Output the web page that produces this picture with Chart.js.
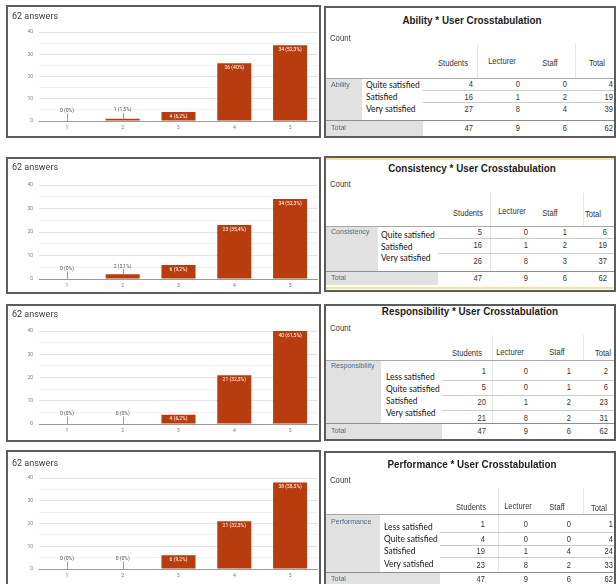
<!DOCTYPE html>
<html>
<head>
<meta charset="utf-8">
<script src="https://cdn.jsdelivr.net/npm/chart.js@4.4.1/dist/chart.umd.min.js"></script>
<style>
  html, body { margin: 0; padding: 0; background: #fff; }
  body { width: 616px; height: 584px; position: relative; overflow: hidden; }
  .box { position: absolute; overflow: hidden; background: #fff; }
  .box canvas { position: absolute; left: 0; top: 0; }
  .frame { position: absolute; left: 0; top: 0; right: 0; bottom: 0; box-sizing: border-box; border: 2px solid #5c5c5c; pointer-events: none; }
  .r { position: absolute; }
  .t { position: absolute; white-space: nowrap; line-height: 1; font-family: "Liberation Sans", Arial, sans-serif; color: #2a2a2a; }
  .ttl { font-size: 10.6px; font-weight: bold; color: #1c1c1c; }
  .cnt { font-size: 8.6px; color: #3a3a3a; }
  .hdr { font-size: 8.6px; color: #333; }
  .grp { font-size: 8px; color: #4d6b85; }
  .sub { font-family: Lato, "Open Sans", sans-serif; font-size: 9.6px; color: #151515; }
  .val { font-size: 8.4px; color: #333; }
</style>
</head>
<body>
<script>
// ---- survey answers per score (1..5) ----
const categories = ['1', '2', '3', '4', '5'];
const answersLabel = '62 answers';

const abilityCounts = [0, 1, 4, 26, 34];
const abilityPct = ['0%', '1,5%', '6,2%', '40%', '52,3%'];

const consistencyCounts = [0, 2, 6, 23, 34];
const consistencyPct = ['0%', '3,1%', '9,2%', '35,4%', '52,3%'];

const responsibilityCounts = [0, 0, 4, 21, 40];
const responsibilityPct = ['0%', '0%', '6,2%', '32,3%', '61,5%'];

const performanceCounts = [0, 0, 6, 21, 38];
const performancePct = ['0%', '0%', '9,2%', '32,3%', '58,5%'];

const yTicks = [0, 10, 20, 30, 40];

// ---- crosstabulation counts (Students, Lecturer, Staff, Total) ----
const userCols = ['Students', 'Lecturer', 'Staff', 'Total'];
const threeLevels = ['Quite satisfied', 'Satisfied', 'Very satisfied'];
const fourLevels = ['Less satisfied', 'Quite satisfied', 'Satisfied', 'Very satisfied'];

const abilityTable = [[4, 0, 0, 4], [16, 1, 2, 19], [27, 8, 4, 39]];
const consistencyTable = [[5, 0, 1, 6], [16, 1, 2, 19], [26, 8, 3, 37]];
const responsibilityTable = [[1, 0, 1, 2], [5, 0, 1, 6], [20, 1, 2, 23], [21, 8, 2, 31]];
const performanceTable = [[1, 0, 0, 1], [4, 0, 0, 4], [19, 1, 4, 24], [23, 8, 2, 33]];
const userTotals = [47, 9, 6, 62];

// ---- styling ----
const BAR = '#b83d0e';
const FONT = 'Roboto, "Liberation Sans", sans-serif';

// value labels: white inside tall bars, grey with a leader line above short ones
const barLabels = {
  id: 'barLabels',
  afterDatasetsDraw(chart, args, opts) {
    const ctx = chart.ctx;
    const meta = chart.getDatasetMeta(0);
    const values = chart.data.datasets[0].data;
    ctx.save();
    ctx.font = '5px ' + FONT;
    ctx.textAlign = 'center';
    ctx.textBaseline = 'middle';
    meta.data.forEach((bar, i) => {
      const text = values[i] + ' (' + opts.pct[i] + ')';
      const top = bar.y, base = bar.base;
      if (base - top >= 8) {
        ctx.fillStyle = '#ffffff';
        ctx.fillText(text, bar.x, top + 4.5);
      } else {
        const ly = Math.min(top - 8, base - 10.5);
        ctx.fillStyle = '#555';
        ctx.fillText(text, bar.x, ly);
        const lx = Math.round(bar.x) + 0.5;
        ctx.strokeStyle = '#9c9c9c';
        ctx.lineWidth = 1;
        ctx.beginPath();
        ctx.moveTo(lx, ly + 3);
        ctx.lineTo(lx, top);
        ctx.stroke();
      }
    });
    ctx.restore();
  }
};

function panelBox(x, y, w, h) {
  const d = document.createElement('div');
  d.className = 'box';
  Object.assign(d.style, { left: x + 'px', top: y + 'px', width: w + 'px', height: h + 'px' });
  document.body.appendChild(d);
  return d;
}
function addFrame(box) {
  const f = document.createElement('div');
  f.className = 'frame';
  box.appendChild(f);
}

function makeBarChart(p) {
  const box = panelBox(p.x, p.y, p.w, p.h);
  const cv = document.createElement('canvas');
  cv.width = p.w; cv.height = p.h;
  cv.style.width = p.w + 'px'; cv.style.height = p.h + 'px';
  box.appendChild(cv);
  addFrame(box);
  const lh = 9 * 1.2;
  new Chart(cv, {
    type: 'bar',
    data: {
      labels: categories,
      datasets: [{ data: p.counts, backgroundColor: BAR, borderWidth: 0, categoryPercentage: 1, barPercentage: 0.61 }]
    },
    options: {
      responsive: false,
      animation: false,
      devicePixelRatio: 1,
      layout: { padding: { left: 6, right: p.w - 312, top: 0, bottom: 0 } },
      plugins: {
        legend: { display: false },
        tooltip: { enabled: false },
        title: {
          display: true, text: answersLabel, align: 'start', color: '#3a3a3a',
          font: { family: FONT, size: 9, weight: 'normal', lineHeight: 1.2 },
          padding: { top: p.titleY - lh / 2, bottom: p.top - p.titleY - lh / 2 }
        },
        barLabels: { pct: p.pct }
      },
      scales: {
        x: {
          grid: { display: false, drawTicks: false },
          border: { display: false },
          ticks: { color: '#777', font: { family: FONT, size: 5 }, padding: 3.5, maxRotation: 0 },
          afterFit(s) { s.height = p.h - p.bottom; }
        },
        y: {
          min: 0, max: 40,
          grid: {
            drawTicks: false,
            color: c => c.tick.value === 0 ? '#9a9a9a' : (c.tick.value % 10 === 0 ? '#e4e4e4' : '#f2f2f2')
          },
          border: { display: false },
          ticks: {
            stepSize: 5, autoSkip: false, color: '#808080', font: { family: FONT, size: 5 }, padding: 6,
            callback: v => yTicks.includes(v) ? String(v) : ''
          },
          afterFit(s) { s.width = 27; }
        }
      }
    },
    plugins: [barLabels]
  });
}

[
  { x: 6, y: 5,   w: 315, h: 133, titleY: 12, top: 27, bottom: 116, counts: abilityCounts, pct: abilityPct },
  { x: 6, y: 157, w: 315, h: 137, titleY: 11, top: 28, bottom: 122, counts: consistencyCounts, pct: consistencyPct },
  { x: 6, y: 304, w: 315, h: 138, titleY: 11, top: 27, bottom: 120, counts: responsibilityCounts, pct: responsibilityPct },
  { x: 6, y: 450, w: 315, h: 140, titleY: 14, top: 28, bottom: 119, counts: performanceCounts, pct: performancePct }
].forEach(makeBarChart);

// ---- crosstabulation tables ----
function buildTable(s) {
  const box = panelBox(s.x, s.y, s.w, s.h);
  const rect = (x, y, w, h, color) => {
    const d = document.createElement('div');
    d.className = 'r';
    Object.assign(d.style, { left: (x - s.x) + 'px', top: (y - s.y) + 'px', width: w + 'px', height: h + 'px', background: color });
    box.appendChild(d);
  };
  const text = (str, x, y, align, cls, sx) => {
    const d = document.createElement('span');
    d.className = 't ' + cls;
    d.textContent = str;
    d.style.left = (x - s.x) + 'px';
    d.style.top = (y - s.y) + 'px';
    const tx = align === 'center' ? '-50%' : align === 'right' ? '-100%' : '0';
    const ox = align === 'center' ? '50%' : align === 'right' ? '100%' : '0';
    d.style.transformOrigin = ox + ' 50%';
    d.style.transform = 'translate(' + tx + ',-50%) scaleX(' + sx + ')';
    box.appendChild(d);
  };
  const R = s.x + s.w;

  if (s.yellow) {
    rect(s.x, s.y + 2, s.w, 2, '#f3e3a2');
    rect(s.x, s.yellowBottom, s.w, 2, '#f3e3a2');
  }
  // grey label cells
  rect(s.x + 1, s.headLineY, s.groupRight - s.x - 1, s.totalLineY - s.headLineY, '#e1e1e1');
  rect(s.x + 1, s.totalLineY, s.dataLeft - s.x - 1, s.totalBottom - s.totalLineY, '#e1e1e1');
  // faint column separators
  s.vlines.forEach(v => rect(v[0], v[1], 1, v[2] - v[1], '#e6e6e6'));
  // rules
  rect(s.x, s.headLineY, s.w, 1, '#a8a8a8');
  s.rowLines.forEach(y => rect(s.dataLeft, y, R - s.dataLeft, 1, '#cdcdcd'));
  rect(s.x, s.totalLineY, s.w, 1, '#8e8e8e');

  text(s.title, s.titleX, s.titleY, 'center', 'ttl', 0.93);
  text('Count', s.x + 6, s.countY, 'left', 'cnt', 0.9);
  userCols.forEach((c, i) => text(c, s.headX[i], s.headY[i], 'center', 'hdr', 0.88));
  text(s.group, s.x + 7, s.groupLabelY, 'left', 'grp', 0.88);
  s.rows.forEach((r, i) => text(r, s.subX, s.subYs[i], 'left', 'sub', 0.88));
  s.values.forEach((row, i) => row.forEach((v, j) => text(String(v), s.valRight[j], s.rowYs[i], 'right', 'val', 0.9)));
  text('Total', s.x + 7, s.totalY, 'left', 'grp', 0.88);
  userTotals.forEach((v, j) => text(String(v), s.valRight[j], s.totalY, 'right', 'val', 0.9));
  addFrame(box);
}

[
  {
    x: 324, y: 6, w: 292, h: 132, title: 'Ability * User Crosstabulation', titleX: 472, titleY: 20, countY: 38,
    headX: [453, 502, 550, 597], headY: [63, 61, 63, 63], headLineY: 78,
    group: 'Ability', groupRight: 362, groupLabelY: 85,
    subX: 366, subYs: [85, 97, 109], rows: threeLevels, values: abilityTable,
    dataLeft: 423, rowLines: [90, 102], valRight: [473, 520, 567, 613], rowYs: [84, 97, 109],
    totalLineY: 120, totalBottom: 137, totalY: 128,
    vlines: [[477, 45, 78], [575, 43, 78]]
  },
  {
    x: 324, y: 156, w: 292, h: 136, title: 'Consistency * User Crosstabulation', titleX: 472, titleY: 168, countY: 184,
    headX: [468, 512, 550, 593], headY: [213, 211, 213, 214], headLineY: 226,
    group: 'Consistency', groupRight: 378, groupLabelY: 232,
    subX: 381, subYs: [235, 247, 258], rows: threeLevels, values: consistencyTable,
    dataLeft: 438, rowLines: [238, 253], valRight: [482, 528, 567, 607], rowYs: [232, 245, 261],
    totalLineY: 271, totalBottom: 285, totalY: 278, yellow: true, yellowBottom: 287,
    vlines: [[490, 193, 271], [583, 193, 226]]
  },
  {
    x: 324, y: 304, w: 292, h: 137, title: 'Responsibility * User Crosstabulation', titleX: 470, titleY: 311, countY: 328,
    headX: [467, 510, 557, 603], headY: [353, 352, 352, 353], headLineY: 360,
    group: 'Responsibility', groupRight: 381, groupLabelY: 366,
    subX: 386, subYs: [377, 389, 401, 413], rows: fourLevels, values: responsibilityTable,
    dataLeft: 442, rowLines: [380, 395, 410], valRight: [486, 528, 571, 608], rowYs: [371, 387, 402, 418],
    totalLineY: 423, totalBottom: 439, totalY: 431,
    vlines: [[492, 335, 423], [583, 335, 360]]
  },
  {
    x: 324, y: 451, w: 292, h: 140, title: 'Performance * User Crosstabulation', titleX: 472, titleY: 464, countY: 480,
    headX: [471, 518, 557, 599], headY: [507, 506, 507, 508], headLineY: 514,
    group: 'Performance', groupRight: 380, groupLabelY: 522,
    subX: 384, subYs: [527, 539, 551, 564], rows: fourLevels, values: performanceTable,
    dataLeft: 440, rowLines: [532, 545, 557], valRight: [485, 528, 571, 613], rowYs: [524, 539, 551, 565],
    totalLineY: 572, totalBottom: 591, totalY: 579,
    vlines: [[498, 488, 572], [583, 488, 514]]
  }
].forEach(buildTable);
</script>
</body>
</html>
